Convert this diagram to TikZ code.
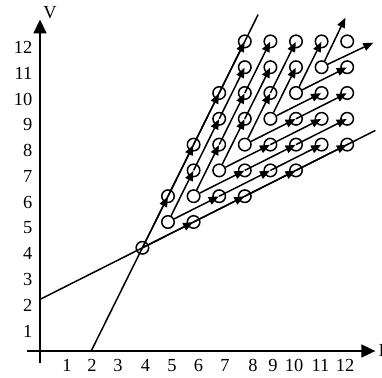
\documentclass[tikz,border=0pt]{standalone}
\usepackage{fontspec}
\setmainfont{Liberation Serif}
\usetikzlibrary{arrows.meta}
\begin{document}
\begin{tikzpicture}[x=1bp,y=1bp,
  pt/.style={circle,draw,line width=1.5bp,minimum size=12.5bp,inner sep=0pt},
  ln/.style={line width=1.5bp},
  seg/.style={line width=1.5bp,-{Triangle[length=10bp,width=8bp]},shorten >=0.5bp},
  axisline/.style={line width=1.8bp,-{Triangle[length=14bp,width=13bp]}},
  lab/.style={font=\fontsize{18.5}{18.5}\selectfont,inner sep=0pt}]
\useasboundingbox (0,0) rectangle (382,378);
% tick labels
\foreach \k/\xx in {1/67,2/92,3/118,4/145.5,5/172,6/198.5,7/225,8/253,9/273,10/294,11/320.5,12/345}
  \node[lab] (x\k) at (\xx,12.5) {\k};
\foreach \k in {1,...,12}
  \node[lab,anchor=east] (y\k) at (32.5,{378-351+25.8*\k-6}) {\k};
\node[lab] (lv) at (50,365.5) {V};
\node[lab,anchor=west] (li) at (378.5,27.5) {I};
\begin{scope}[shift={(40bp,27bp)},x=25.6bp,y=25.8bp]
  % axes
  \coordinate (ya) at (0,-0.45);
  \coordinate (yb) at (0,12.85);
  \coordinate (xa) at (-0.52,0);
  \coordinate (xb) at (13.1,0);
  \draw[axisline] (ya) -- (yb);
  \draw[axisline] (xa) -- (xb);
  % boundary lines
  \coordinate (s0) at (2,0);
  \coordinate (s1) at (8.52,13.04);
  \coordinate (l0) at (0,2);
  \coordinate (l1) at (13.1,8.55);
  \draw[ln] (s0) -- (s1);
  \draw[ln] (l0) -- (l1);
  % lattice points
  \foreach \i/\lo/\hi in {4/4/4,5/5/6,6/5/8,7/6/10,8/6/12,9/7/12,10/7/12,11/8/12,12/8/12}
    \foreach \v in {\lo,...,\hi}
      \node[pt] (p\i-\v) at (\i,\v) {};
  % free ends of the outer arrows
  \coordinate (e1) at (11.93,12.92);
  \coordinate (e2) at (13.02,11.95);
  % arrows along the boundary lines
  \foreach \a/\b in {4-4/5-6,5-6/6-8,6-8/7-10,7-10/8-12,4-4/6-5,6-5/8-6,8-6/10-7,10-7/12-8}
    \draw[seg] (p\a.center) -- (p\b.center);
  % first steps from the diagonal points
  \foreach \a/\b in {5-5/6-7,5-5/7-6,6-6/7-8,6-6/8-7,7-7/8-9,7-7/9-8,8-8/9-10,8-8/10-9,9-9/10-11,9-9/11-10,10-10/11-12,10-10/12-11}
    \draw[seg] (p\a) -- (p\b.center);
  % further steps
  \foreach \a/\b in {6-7/7-9,7-9/8-11,7-6/9-7,9-7/11-8,7-8/8-10,8-10/9-12,8-7/10-8,10-8/12-9,8-9/9-11,9-8/11-9,9-10/10-12,10-9/12-10}
    \draw[seg] (p\a.center) -- (p\b.center);
  \draw[seg,shorten >=0pt] (p11-11) -- (e1);
  \draw[seg,shorten >=0pt] (p11-11) -- (e2);
\end{scope}
\end{tikzpicture}
\end{document}
